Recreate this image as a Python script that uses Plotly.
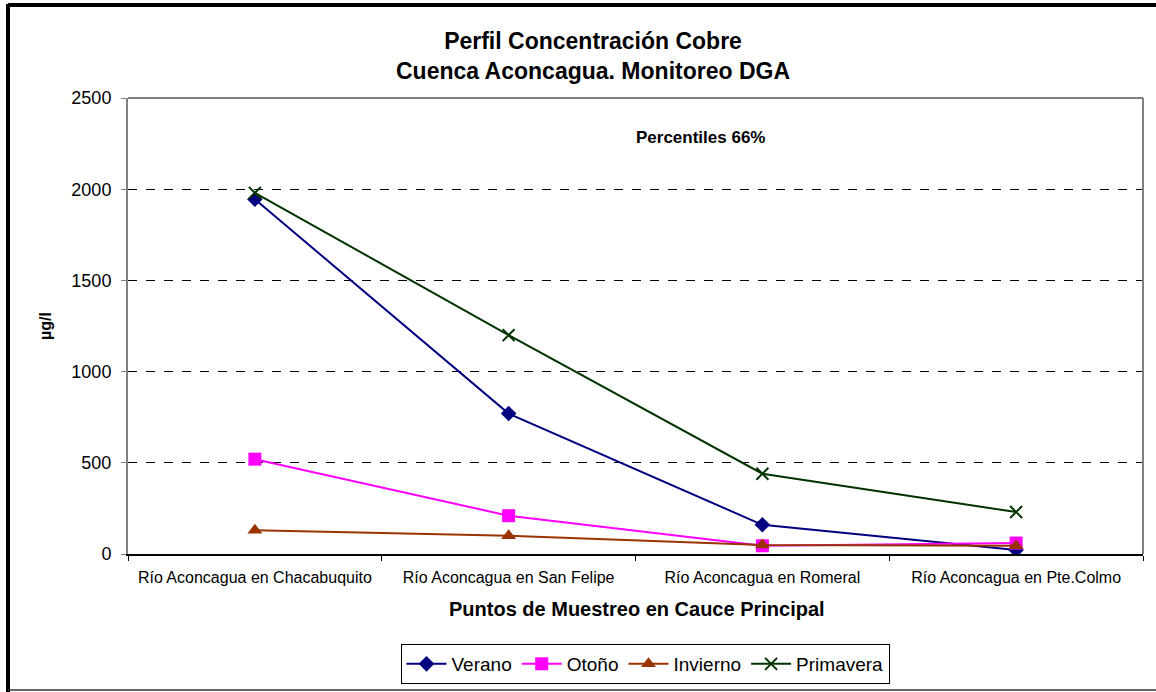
import plotly.graph_objects as go

categories = ["Río Aconcagua en Chacabuquito", "Río Aconcagua en San Felipe",
              "Río Aconcagua en Romeral", "Río Aconcagua en Pte.Colmo"]
verano = [1945, 770, 160, 22]
otono = [520, 210, 45, 60]
invierno = [130, 100, 50, 45]
primavera = [1980, 1200, 440, 230]
y_ticks = [0, 500, 1000, 1500, 2000, 2500]

W, H = 1156, 692
L, R, T, B = 128, 1143, 98, 554

def px(x):
    return (x - L) / (R - L)

def py(y):
    return (B - y) / (B - T)

fig = go.Figure()
fig.add_trace(go.Scatter(x=categories, y=verano, name="Verano", mode="lines+markers",
                         line=dict(color="#000080", width=2),
                         marker=dict(symbol="diamond", size=12, color="#000080")))
fig.add_trace(go.Scatter(x=categories, y=otono, name="Otoño", mode="lines+markers",
                         line=dict(color="#FF00FF", width=2),
                         marker=dict(symbol="square", size=13, color="#FF00FF")))
fig.add_trace(go.Scatter(x=categories, y=invierno, name="Invierno", mode="lines+markers",
                         line=dict(color="#993300", width=2),
                         marker=dict(symbol="triangle-up", size=13, color="#993300")))
fig.add_trace(go.Scatter(x=categories, y=primavera, name="Primavera", mode="lines+markers",
                         line=dict(color="#003300", width=2),
                         marker=dict(symbol="x-thin", size=12, color="#003300",
                                     line=dict(color="#003300", width=2))))

fig.update_layout(
    width=W, height=H,
    margin=dict(l=L, r=W - R, t=T, b=H - B, autoexpand=False),
    paper_bgcolor="white", plot_bgcolor="white",
    font=dict(family="Liberation Sans, Arial, sans-serif", color="black", size=15),
    xaxis=dict(type="category", range=[-0.5, 3.5], showgrid=False,
               showline=True, linecolor="black", linewidth=2,
               ticks="outside", tickson="boundaries", ticklen=5, tickcolor="black",
               ticklabelstandoff=8, tickfont=dict(size=16)),
    yaxis=dict(range=[0, 2500], tickvals=y_ticks, showgrid=True, gridcolor="black",
               griddash="dash", gridwidth=1, zeroline=False,
               showline=True, linecolor="#808080", linewidth=2,
               ticks="outside", ticklen=5, tickcolor="#808080",
               ticklabelstandoff=6, tickfont=dict(size=18)),
    legend=dict(orientation="h", x=px(645), xanchor="center", y=py(664), yanchor="middle",
                bordercolor="black", borderwidth=1, font=dict(size=19),
                itemwidth=40, tracegroupgap=0),
    showlegend=True,
)

fig.add_annotation(text="<b>Perfil Concentración Cobre<br>Cuenca Aconcagua. Monitoreo DGA</b>",
                   xref="paper", yref="paper", x=px(593), y=py(56),
                   xanchor="center", yanchor="middle", showarrow=False, font=dict(size=23))
fig.add_annotation(text="<b>Percentiles 66%</b>", xref="paper", yref="paper",
                   x=px(700), y=py(137), xanchor="center", yanchor="middle",
                   showarrow=False, font=dict(size=17))
fig.add_annotation(text="<b>Puntos de Muestreo en Cauce Principal</b>", xref="paper", yref="paper",
                   x=px(637), y=py(609), xanchor="center", yanchor="middle",
                   showarrow=False, font=dict(size=20))
fig.add_annotation(text="<b>µg/l</b>", xref="paper", yref="paper", textangle=-90,
                   x=px(45), y=py(326), xanchor="center", yanchor="middle",
                   showarrow=False, font=dict(size=16))

# gray plot area border (top and right)
fig.add_shape(type="line", xref="paper", yref="paper", x0=0, x1=1, y0=1, y1=1,
              line=dict(color="#808080", width=2))
fig.add_shape(type="line", xref="paper", yref="paper", x0=1, x1=1, y0=0, y1=1,
              line=dict(color="#808080", width=2))

# outer frame
fig.add_shape(type="line", xref="paper", yref="paper", x0=px(8), x1=px(1156), y0=py(5), y1=py(5),
              line=dict(color="black", width=4))
fig.add_shape(type="line", xref="paper", yref="paper", x0=px(8), x1=px(8), y0=py(4), y1=py(692),
              line=dict(color="black", width=4))
fig.add_shape(type="line", xref="paper", yref="paper", x0=px(8), x1=px(1156), y0=py(690), y1=py(690),
              line=dict(color="#333333", width=1.5))

fig.write_html("out.html", config={"displayModeBar": False},
               post_script="document.body.style.margin='0';")
